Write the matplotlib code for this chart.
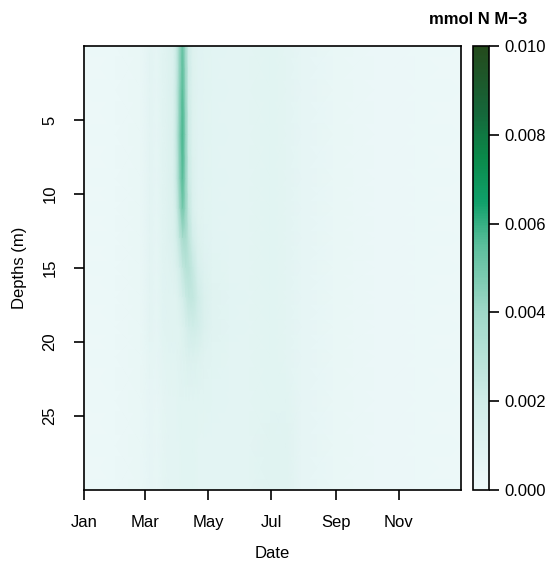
import numpy as np
import matplotlib
matplotlib.use("Agg")
import matplotlib.pyplot as plt
from matplotlib.colors import LinearSegmentedColormap

plt.rcParams['font.family'] = ['Liberation Sans', 'DejaVu Sans']

# day of year for each column, depth (m) for each row
days = [0, 30, 55, 64, 70, 76, 82, 86, 89, 92, 95, 98, 101, 105, 110, 116, 124,
        140, 160, 180, 195, 210, 240, 280, 320, 364]
depths = [0, 3, 6, 9, 11, 13, 15, 17, 19, 21, 24, 27, 30]

# concentration, units of 0.001 mmol N m-3 (rows = depths, cols = days)
conc_e3 = [
    [0.2, 0.25, 0.4, 0.8, 0.6, 0.9, 1.1, 1.4, 2.2, 4.0, 5.3, 4.0, 2.0, 1.2, 0.95, 0.9, 0.85, 0.8, 0.8, 0.9, 0.8, 0.6, 0.4, 0.3, 0.25, 0.2],
    [0.2, 0.25, 0.4, 0.8, 0.6, 0.9, 1.1, 1.4, 2.3, 4.2, 5.6, 4.2, 2.0, 1.2, 0.95, 0.9, 0.85, 0.8, 0.8, 0.9, 0.8, 0.6, 0.4, 0.3, 0.25, 0.2],
    [0.2, 0.25, 0.4, 0.8, 0.6, 0.9, 1.1, 1.4, 2.4, 4.4, 5.8, 4.4, 2.1, 1.2, 0.95, 0.9, 0.85, 0.8, 0.8, 0.9, 0.8, 0.6, 0.4, 0.3, 0.25, 0.2],
    [0.2, 0.25, 0.4, 0.8, 0.6, 0.9, 1.1, 1.4, 2.3, 4.2, 5.6, 4.3, 2.2, 1.3, 0.95, 0.9, 0.85, 0.8, 0.8, 0.9, 0.8, 0.6, 0.4, 0.3, 0.25, 0.2],
    [0.2, 0.25, 0.4, 0.8, 0.6, 0.9, 1.1, 1.3, 2.0, 3.6, 5.0, 4.2, 2.5, 1.4, 1.0, 0.9, 0.85, 0.8, 0.8, 0.9, 0.8, 0.6, 0.4, 0.3, 0.25, 0.2],
    [0.2, 0.25, 0.4, 0.8, 0.6, 0.9, 1.1, 1.3, 1.7, 2.6, 3.6, 3.6, 2.8, 1.8, 1.2, 0.95, 0.85, 0.8, 0.8, 0.9, 0.8, 0.6, 0.4, 0.3, 0.25, 0.2],
    [0.2, 0.25, 0.4, 0.8, 0.6, 0.9, 1.0, 1.1, 1.3, 1.8, 2.5, 3.0, 3.0, 2.4, 1.5, 1.1, 0.9, 0.8, 0.8, 0.9, 0.8, 0.6, 0.4, 0.3, 0.25, 0.2],
    [0.2, 0.25, 0.4, 0.8, 0.6, 0.9, 1.0, 1.0, 1.0, 1.3, 1.7, 2.2, 2.6, 2.6, 2.0, 1.3, 1.0, 0.85, 0.8, 0.9, 0.8, 0.6, 0.4, 0.3, 0.25, 0.2],
    [0.2, 0.25, 0.4, 0.8, 0.6, 0.9, 1.0, 1.0, 1.0, 1.0, 1.2, 1.5, 1.8, 2.0, 1.8, 1.3, 1.0, 0.85, 0.8, 0.9, 0.8, 0.6, 0.4, 0.3, 0.25, 0.2],
    [0.2, 0.25, 0.4, 0.7, 0.6, 0.8, 0.9, 0.9, 0.9, 1.0, 1.1, 1.2, 1.3, 1.3, 1.2, 1.0, 0.9, 0.8, 0.8, 0.9, 0.8, 0.6, 0.4, 0.3, 0.25, 0.2],
    [0.2, 0.25, 0.4, 0.6, 0.5, 0.7, 0.8, 0.8, 0.8, 0.9, 0.9, 0.9, 0.9, 0.9, 0.9, 0.9, 0.85, 0.8, 0.8, 0.9, 0.9, 0.6, 0.4, 0.3, 0.25, 0.2],
    [0.2, 0.25, 0.4, 0.6, 0.5, 0.7, 0.8, 0.8, 0.8, 0.8, 0.9, 0.9, 0.9, 0.9, 0.8, 0.8, 0.8, 0.8, 0.8, 1.0, 1.0, 0.6, 0.4, 0.3, 0.25, 0.2],
    [0.2, 0.25, 0.4, 0.6, 0.5, 0.7, 0.8, 0.8, 0.8, 0.8, 0.9, 0.9, 0.9, 0.9, 0.8, 0.8, 0.8, 0.8, 0.8, 1.0, 1.0, 0.6, 0.4, 0.3, 0.25, 0.2],
]

month_days = [0, 59, 120, 181, 243, 304]
month_labels = ['Jan', 'Mar', 'May', 'Jul', 'Sep', 'Nov']
depth_ticks = [5, 10, 15, 20, 25]
cbar_ticks = [0.0, 0.002, 0.004, 0.006, 0.008, 0.010]

colors = ['#eff9fa', '#d0ede8', '#9fd8c8', '#5cbf9c', '#10a06a', '#0a8a4a', '#15673a', '#244a1c']
stops = [0.0, 0.2, 0.4, 0.55, 0.65, 0.75, 0.85, 1.0]
cmap = LinearSegmentedColormap.from_list('bugn', list(zip(stops, colors)))

conc = np.array(conc_e3) * 1e-3

W, H = 552, 569
fig = plt.figure(figsize=(W/100, H/100), dpi=100)
ax = fig.add_axes([84/W, 79/H, 377/W, 444/H])
cax = fig.add_axes([473/W, 79/H, 16/W, 444/H])

m = ax.pcolormesh(days, depths, conc, shading='gouraud', cmap=cmap, vmin=0, vmax=0.01)
ax.set_xlim(0, 364)
ax.set_ylim(30, 0)
ax.set_xticks(month_days)
ax.set_xticklabels(month_labels)
ax.set_yticks(depth_ticks)
ax.set_yticklabels([str(d) for d in depth_ticks], rotation=90, va='center')
ax.tick_params(axis='both', length=7, width=1.2, labelsize=12)
ax.tick_params(axis='x', pad=11)
ax.tick_params(axis='y', pad=12)
for s in ax.spines.values():
    s.set_linewidth(1.2)

cb = fig.colorbar(m, cax=cax, ticks=cbar_ticks, format='%.3f')
cb.outline.set_linewidth(1.2)
cax.tick_params(length=7, width=1.2, labelsize=12, pad=4)

fig.text(272/W, 1 - 553/H, 'Date', ha='center', va='center', fontsize=12)
fig.text(20/W, 1 - 268/H, 'Depths (m)', ha='center', va='center', rotation=90, fontsize=12)
fig.text(478/W, 1 - 20/H, 'mmol N M\u22123', ha='center', va='center', fontsize=12, weight='bold')

fig.savefig('out.png', dpi=100)
